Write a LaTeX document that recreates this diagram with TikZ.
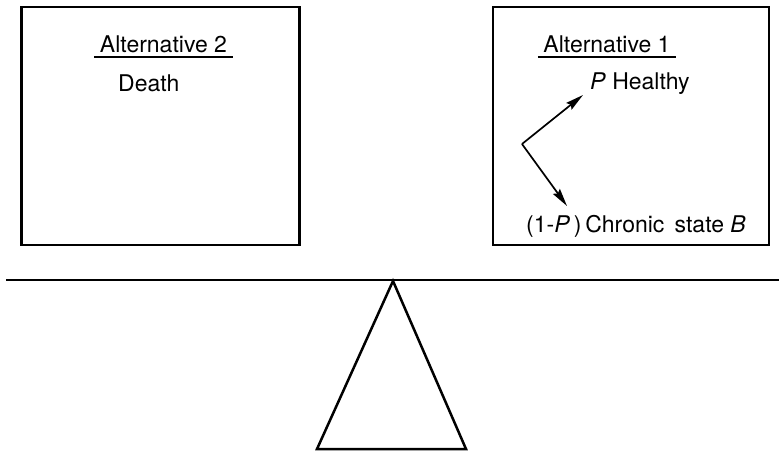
\documentclass[tikz,border=0pt]{standalone}
\usepackage{fontspec}
\setmainfont{TeX Gyre Heros}
\usetikzlibrary{arrows.meta}
\begin{document}
\begin{tikzpicture}[x=1pt,y=-1pt,
  panel/.style={draw,line width=2.8pt},
  lbl/.style={inner sep=0pt,font=\fontsize{23}{27}\selectfont},
  ttl/.style={inner ysep=0pt,inner xsep=5.5pt,font=\fontsize{23}{27}\selectfont,anchor=base},
  arr/.style={line width=1.7pt,-{Stealth[length=18pt,width=8.5pt,inset=2.5pt]}},
  beam/.style={line width=2.4pt},
  fulcrum/.style={draw,line width=2.5pt,line join=miter}]
\useasboundingbox (0,0) rectangle (779,451);
% boxes
\node[panel,minimum width=278pt,minimum height=238pt,inner sep=0pt] (boxL) at (160.5,126) {};
\node[panel,minimum width=276pt,minimum height=238pt,inner sep=0pt] (boxR) at (631,126) {};
% titles
\node[ttl] (t2) at (163.5,52) {Alternative 2};
\draw[line width=1.8pt] ([yshift=-5pt]t2.base west) -- ([yshift=-5pt]t2.base east);
\node[ttl] (t1) at (607,52) {Alternative 1};
\draw[line width=1.8pt] ([yshift=-5pt]t1.base west) -- ([yshift=-5pt]t1.base east);
% texts
\node[lbl,anchor=base west] (death) at (118,91) {Death};
\node[lbl,anchor=base west] (healthy) at (590,89) {\textit{P} Healthy};
\node[lbl,anchor=base west] (chronic) at (526,232) {(1-\textit{P}\,)\,Chronic\, state \textit{B}};
% arrows
\coordinate (fork) at (522,144);
\coordinate (upTip) at (583,95);
\coordinate (downTip) at (567,206);
\draw[arr] (fork) -- (upTip);
\draw[arr] (fork) -- (downTip);
% balance
\coordinate (beamL) at (6,280);
\coordinate (beamR) at (779,280);
\draw[beam] (beamL) -- (beamR);
\coordinate (apex) at (393,281);
\coordinate (baseL) at (317,449);
\coordinate (baseR) at (466,449);
\draw[fulcrum] (apex) -- (baseL) -- (baseR) -- cycle;
\end{tikzpicture}
\end{document}
